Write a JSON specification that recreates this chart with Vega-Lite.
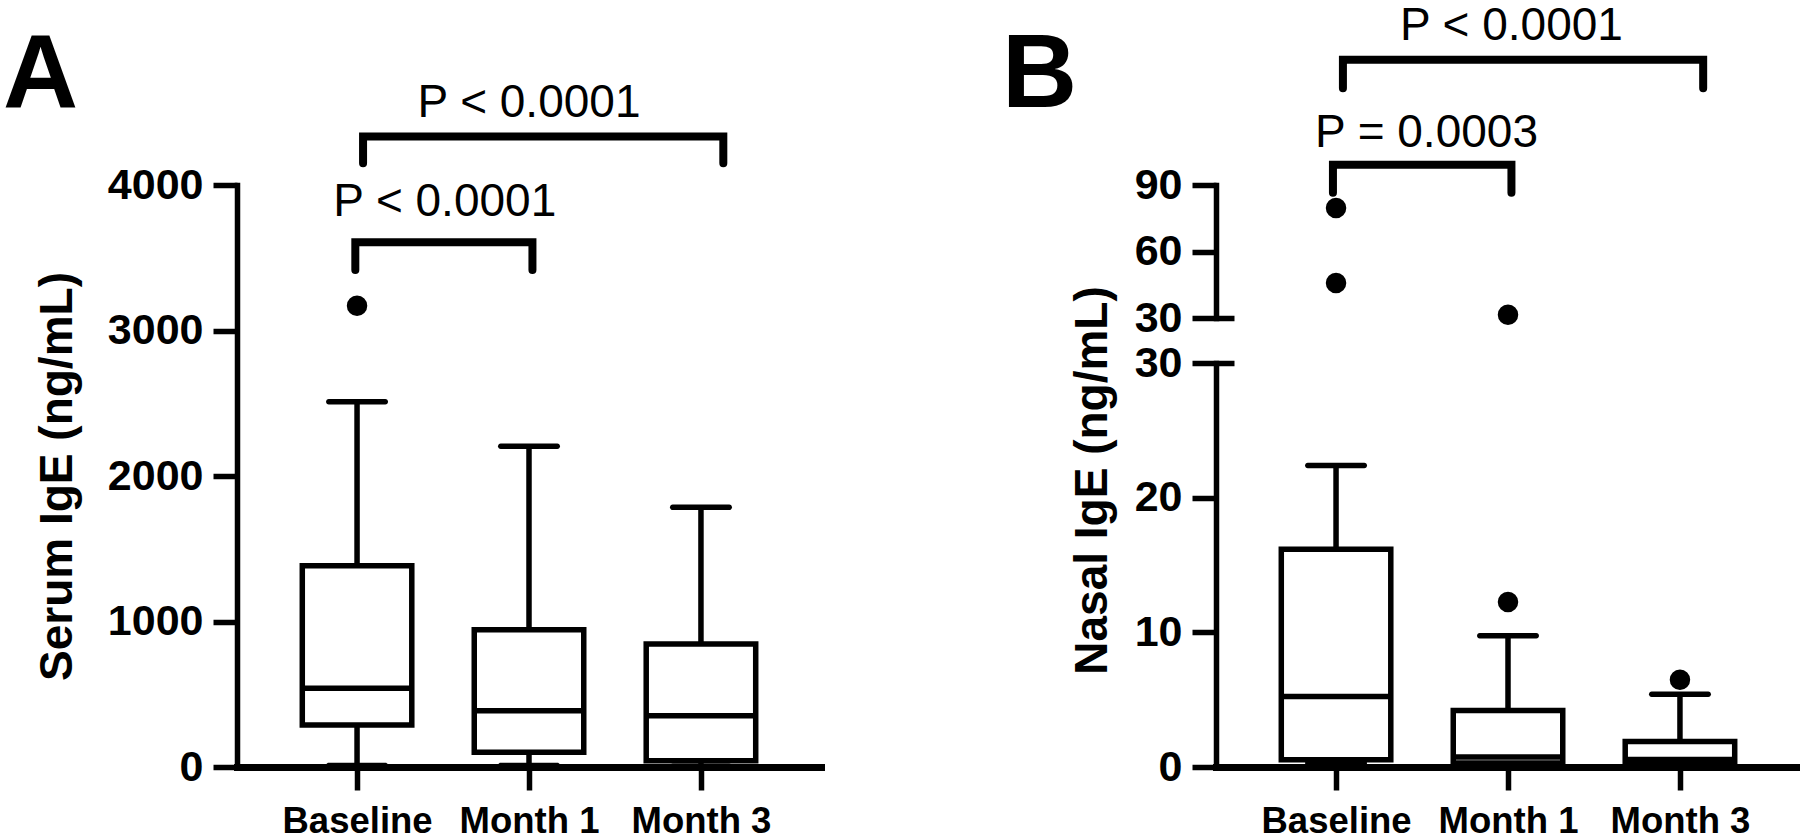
{
  "$schema": "https://vega.github.io/schema/vega-lite/v6.json",
  "background": "white",
  "padding": {"left": 3, "top": 3, "right": 0, "bottom": 0},
  "bounds": "flush",
  "spacing": 395,
  "config": {
    "view": {"stroke": null},
    "axis": {
      "grid": false, "domainColor": "#000", "tickColor": "#000", "labelColor": "#000", "titleColor": "#000",
      "labelFont": "Liberation Sans", "labelFontWeight": "bold", "labelFontSize": 43,
      "titleFont": "Liberation Sans", "titleFontWeight": "bold", "titleFontSize": 46,
      "domainWidth": 5.5, "tickWidth": 5.5, "tickSize": 24, "labelPadding": 10, "domainCap": "square", "format": "d"
    },
    "axisX": {"labelFont": "Liberation Sans", "labelFontSize": 36.5, "domainWidth": 7, "tickSize": 23, "labelPadding": 13, "labelFlush": false, "labelOverlap": false, "labelAngle": 0},
    "title": {"font": "Liberation Sans", "fontSize": 104, "fontWeight": "bold", "color": "#000", "anchor": "start", "frame": "group", "offset": 0}
  },
  "datasets": {
    "boxA": [
      {"visit": 1, "group": "Baseline", "lower": 10, "q1": 289, "median": 541, "q3": 1383, "upper": 2510},
      {"visit": 2, "group": "Month 1", "lower": 10, "q1": 101, "median": 387, "q3": 944, "upper": 2204},
      {"visit": 3, "group": "Month 3", "lower": 5, "q1": 43, "median": 353, "q3": 845, "upper": 1785}
    ],
    "outA": [{"visit": 1, "value": 3170}],
    "brA": [
      {"id": "A1", "step": 1, "visit": 0.99, "value": 3416},
      {"id": "A1", "step": 2, "visit": 0.99, "value": 3606},
      {"id": "A1", "step": 3, "visit": 2.02, "value": 3606},
      {"id": "A1", "step": 4, "visit": 2.02, "value": 3416},
      {"id": "A2", "step": 1, "visit": 1.035, "value": 4149},
      {"id": "A2", "step": 2, "visit": 1.035, "value": 4333},
      {"id": "A2", "step": 3, "visit": 3.13, "value": 4333},
      {"id": "A2", "step": 4, "visit": 3.13, "value": 4149}
    ],
    "pA": [
      {"visit": 1.51, "value": 3789, "label": "P < 0.0001"},
      {"visit": 2.0, "value": 4465, "label": "P < 0.0001"}
    ],
    "boxB": [
      {"visit": 1, "group": "Baseline", "lower": 0.3, "q1": 0.54, "median": 5.24, "q3": 16.17, "upper": 22.39},
      {"visit": 2, "group": "Month 1", "lower": 0.1, "q1": 0.3, "median": 0.75, "q3": 4.2, "upper": 9.75},
      {"visit": 3, "group": "Month 3", "lower": 0.1, "q1": 0.25, "median": 0.55, "q3": 1.9, "upper": 5.4}
    ],
    "outB": [
      {"visit": 1, "value": 79.6},
      {"visit": 1, "value": 45.8},
      {"visit": 2, "value": 31.5},
      {"visit": 2, "value": 12.25},
      {"visit": 3, "value": 6.48}
    ],
    "brB": [
      {"id": "B1", "step": 1, "visit": 0.982, "value": 86.5},
      {"id": "B1", "step": 2, "visit": 0.982, "value": 99.1},
      {"id": "B1", "step": 3, "visit": 2.02, "value": 99.1},
      {"id": "B1", "step": 4, "visit": 2.02, "value": 86.5},
      {"id": "B2", "step": 1, "visit": 1.04, "value": 133.6},
      {"id": "B2", "step": 2, "visit": 1.04, "value": 146.5},
      {"id": "B2", "step": 3, "visit": 3.135, "value": 146.5},
      {"id": "B2", "step": 4, "visit": 3.135, "value": 133.6}
    ],
    "pB": [
      {"visit": 1.526, "value": 107.0, "label": "P = 0.0003"},
      {"visit": 2.02, "value": 155.4, "label": "P < 0.0001"}
    ]
  },
  "hconcat": [
    {
      "width": 584, "height": 582,
      "title": {"text": "A", "dx": -234, "dy": 53},
      "encoding": {
        "x": {"field": "visit", "type": "quantitative",
          "scale": {"domain": [0.331, 3.669], "nice": false, "zero": false},
          "axis": {"values": [1, 2, 3], "title": null, "labelExpr": "datum.value == 1 ? 'Baseline' : datum.value == 2 ? 'Month 1' : 'Month 3'"}}
      },
      "layer": [
        {"data": {"name": "boxA"}, "mark": {"type": "rule", "strokeWidth": 5.5, "color": "#000"},
         "encoding": {"y": {"field": "lower", "type": "quantitative", "title": "Serum IgE (ng/mL)", "scale": {"domain": [0, 4000], "nice": false, "zero": false}, "axis": {"values": [0, 1000, 2000, 3000, 4000], "titlePadding": 26}}, "y2": {"field": "upper"}}},
        {"data": {"name": "boxA"}, "mark": {"type": "bar", "width": 109.5, "fill": "#fff", "stroke": "#000", "strokeWidth": 5.5},
         "encoding": {"y": {"field": "q1", "type": "quantitative", "title": "Serum IgE (ng/mL)", "scale": {"domain": [0, 4000], "nice": false, "zero": false}, "axis": {"values": [0, 1000, 2000, 3000, 4000], "titlePadding": 26}}, "y2": {"field": "q3"}}},
        {"data": {"name": "boxA"}, "mark": {"type": "tick", "orient": "horizontal", "size": 109.5, "thickness": 5.5, "color": "#000", "opacity": 1},
         "encoding": {"y": {"field": "median", "type": "quantitative", "title": "Serum IgE (ng/mL)", "scale": {"domain": [0, 4000], "nice": false, "zero": false}, "axis": {"values": [0, 1000, 2000, 3000, 4000], "titlePadding": 26}}}},
        {"data": {"name": "boxA"}, "mark": {"type": "tick", "orient": "horizontal", "size": 62, "thickness": 5.5, "color": "#000", "opacity": 1, "cornerRadius": 2.7},
         "encoding": {"y": {"field": "upper", "type": "quantitative", "title": "Serum IgE (ng/mL)", "scale": {"domain": [0, 4000], "nice": false, "zero": false}, "axis": {"values": [0, 1000, 2000, 3000, 4000], "titlePadding": 26}}}},
        {"data": {"name": "boxA"}, "mark": {"type": "tick", "orient": "horizontal", "size": 62, "thickness": 5.5, "color": "#000", "opacity": 1, "cornerRadius": 2.7},
         "encoding": {"y": {"field": "lower", "type": "quantitative", "title": "Serum IgE (ng/mL)", "scale": {"domain": [0, 4000], "nice": false, "zero": false}, "axis": {"values": [0, 1000, 2000, 3000, 4000], "titlePadding": 26}}}},
        {"data": {"name": "outA"}, "mark": {"type": "point", "filled": true, "size": 420, "color": "#000", "opacity": 1},
         "encoding": {"y": {"field": "value", "type": "quantitative", "title": "Serum IgE (ng/mL)", "scale": {"domain": [0, 4000], "nice": false, "zero": false}, "axis": {"values": [0, 1000, 2000, 3000, 4000], "titlePadding": 26}}}},
        {"data": {"name": "brA"}, "mark": {"type": "line", "strokeWidth": 8, "strokeCap": "round", "strokeJoin": "miter", "color": "#000"},
         "encoding": {"y": {"field": "value", "type": "quantitative", "title": "Serum IgE (ng/mL)", "scale": {"domain": [0, 4000], "nice": false, "zero": false}, "axis": {"values": [0, 1000, 2000, 3000, 4000], "titlePadding": 26}}, "detail": {"field": "id"}, "order": {"field": "step"}}},
        {"data": {"name": "pA"}, "mark": {"type": "text", "font": "Liberation Sans", "fontSize": 46, "align": "center", "baseline": "alphabetic", "color": "#000"},
         "encoding": {"y": {"field": "value", "type": "quantitative", "title": "Serum IgE (ng/mL)", "scale": {"domain": [0, 4000], "nice": false, "zero": false}, "axis": {"values": [0, 1000, 2000, 3000, 4000], "titlePadding": 26}}, "text": {"field": "label"}}}
      ]
    },
    {
      "width": 584, "height": 582,
      "title": {"text": "B", "dx": -214, "dy": 130},
      "encoding": {
        "x": {"field": "visit", "type": "quantitative",
          "scale": {"domain": [0.331, 3.669], "nice": false, "zero": false},
          "axis": {"values": [1, 2, 3], "title": null, "labelExpr": "datum.value == 1 ? 'Baseline' : datum.value == 2 ? 'Month 1' : 'Month 3'"}}
      },
      "resolve": {"scale": {"y": "independent"}, "axis": {"y": "independent"}},
      "layer": [
        {
          "data": {"name": "boxB"},
          "layer": [
            {"mark": {"type": "rule", "strokeWidth": 5.5, "color": "#000"},
             "encoding": {"y": {"field": "lower", "type": "quantitative", "title": "Nasal IgE (ng/mL)", "scale": {"domain": [0, 30], "range": [582, 178], "nice": false, "zero": false}, "axis": {"values": [0, 10, 20, 30], "orient": "left", "titlePadding": 18, "titleY": 295}}, "y2": {"field": "upper"}}},
            {"mark": {"type": "bar", "width": 109.5, "fill": "#fff", "stroke": "#000", "strokeWidth": 5.5},
             "encoding": {"y": {"field": "q1", "type": "quantitative", "title": "Nasal IgE (ng/mL)", "scale": {"domain": [0, 30], "range": [582, 178], "nice": false, "zero": false}, "axis": {"values": [0, 10, 20, 30], "orient": "left", "titlePadding": 18, "titleY": 295}}, "y2": {"field": "q3"}}},
            {"mark": {"type": "tick", "orient": "horizontal", "size": 109.5, "thickness": 5.5, "color": "#000", "opacity": 1},
             "encoding": {"y": {"field": "median", "type": "quantitative", "title": "Nasal IgE (ng/mL)", "scale": {"domain": [0, 30], "range": [582, 178], "nice": false, "zero": false}, "axis": {"values": [0, 10, 20, 30], "orient": "left", "titlePadding": 18, "titleY": 295}}}},
            {"mark": {"type": "tick", "orient": "horizontal", "size": 62, "thickness": 5.5, "color": "#000", "opacity": 1, "cornerRadius": 2.7},
             "encoding": {"y": {"field": "upper", "type": "quantitative", "title": "Nasal IgE (ng/mL)", "scale": {"domain": [0, 30], "range": [582, 178], "nice": false, "zero": false}, "axis": {"values": [0, 10, 20, 30], "orient": "left", "titlePadding": 18, "titleY": 295}}}},
            {"mark": {"type": "tick", "orient": "horizontal", "size": 62, "thickness": 5.5, "color": "#000", "opacity": 1, "cornerRadius": 2.7},
             "encoding": {"y": {"field": "lower", "type": "quantitative", "title": "Nasal IgE (ng/mL)", "scale": {"domain": [0, 30], "range": [582, 178], "nice": false, "zero": false}, "axis": {"values": [0, 10, 20, 30], "orient": "left", "titlePadding": 18, "titleY": 295}}}}
          ]
        },
        {
          "layer": [
            {"data": {"name": "outB"}, "transform": [{"filter": "datum.value >= 30"}],
             "mark": {"type": "point", "filled": true, "size": 420, "color": "#000", "opacity": 1},
             "encoding": {"y": {"field": "value", "type": "quantitative", "title": null, "scale": {"domain": [30, 90], "range": [133, 0], "nice": false, "zero": false}, "axis": {"values": [30, 60, 90], "orient": "left", "title": null}}}},
            {"data": {"name": "brB"}, "mark": {"type": "line", "strokeWidth": 8, "strokeCap": "round", "strokeJoin": "miter", "color": "#000"},
             "encoding": {"y": {"field": "value", "type": "quantitative", "title": null, "scale": {"domain": [30, 90], "range": [133, 0], "nice": false, "zero": false}, "axis": {"values": [30, 60, 90], "orient": "left", "title": null}}, "detail": {"field": "id"}, "order": {"field": "step"}}}
          ]
        },
        {"data": {"name": "outB"}, "transform": [{"filter": "datum.value < 30"}],
         "mark": {"type": "point", "filled": true, "size": 420, "color": "#000", "opacity": 1},
         "encoding": {"y": {"field": "value", "type": "quantitative", "title": null, "scale": {"domain": [0, 30], "range": [582, 178], "nice": false, "zero": false}, "axis": {"values": [30], "orient": "left", "title": null, "labels": false, "domain": false, "offset": -18, "tickSize": 18}}}},
        {"data": {"name": "pB"}, "mark": {"type": "text", "font": "Liberation Sans", "fontSize": 46, "align": "center", "baseline": "alphabetic", "color": "#000"},
         "encoding": {"y": {"field": "value", "type": "quantitative", "title": null, "scale": {"domain": [30, 90], "range": [133, 0], "nice": false, "zero": false}, "axis": {"values": [30], "orient": "left", "title": null, "labels": false, "domain": false, "offset": -18, "tickSize": 18}}, "text": {"field": "label"}}}
      ]
    }
  ]
}
